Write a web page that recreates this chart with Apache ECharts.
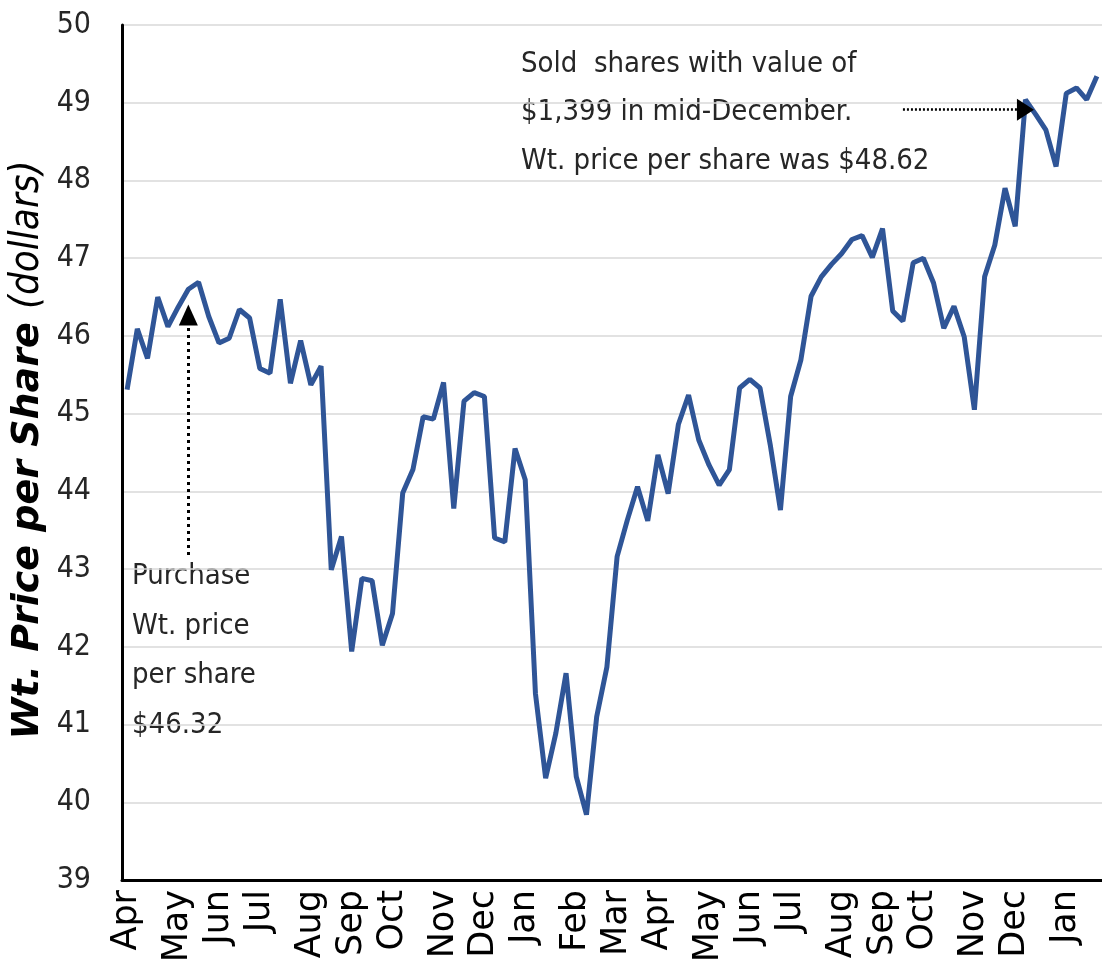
<!DOCTYPE html>
<html>
<head>
<meta charset="utf-8">
<script src="https://cdn.jsdelivr.net/npm/echarts@6/dist/echarts.min.js"></script>
<style>
  html, body { margin: 0; padding: 0; background: #fff; }
  #chart { width: 1102px; height: 971px; }
</style>
</head>
<body>
<div id="chart"></div>
<script>
// month labels and how many weekly points fall in each month
var monthNames = ['Apr','May','Jun','Jul','Aug','Sep','Oct','Nov','Dec','Jan','Feb',
                  'Mar','Apr','May','Jun','Jul','Aug','Sep','Oct','Nov','Dec','Jan'];
var weeksInMonth = [5,4,4,5,4,4,5,4,4,5,4,4,5,4,4,5,4,4,5,4,5,4];

// weighted price per share, one value per week
var prices = [
  45.31, 46.09, 45.71, 46.50, 46.12, 46.37, 46.60, 46.69, 46.25, 45.91,
  45.97, 46.34, 46.23, 45.58, 45.52, 46.47, 45.39, 45.94, 45.37, 45.61,
  42.99, 43.42, 41.94, 42.88, 42.85, 42.02, 42.43, 43.98, 44.28, 44.96,
  44.93, 45.40, 43.78, 45.16, 45.27, 45.22, 43.40, 43.35, 44.55, 44.15,
  41.40, 40.31, 40.89, 41.66, 40.33, 39.84, 41.10, 41.74, 43.16, 43.63,
  44.06, 43.62, 44.47, 43.97, 44.86, 45.24, 44.66, 44.34, 44.08, 44.28,
  45.33, 45.44, 45.33, 44.60, 43.76, 45.22, 45.69, 46.51, 46.76, 46.92,
  47.06, 47.24, 47.29, 47.01, 47.38, 46.32, 46.19, 46.94, 47.00, 46.68,
  46.10, 46.38, 45.99, 45.05, 46.76, 47.17, 47.90, 47.41, 49.04, 48.85,
  48.65, 48.18, 49.12, 49.19, 49.04, 49.34
];

var purchaseLevel = 46.44;
var purchaseWeek = 6;
var soldWeek = 88;

var narrow = '"DejaVu Sans Condensed", "Liberation Sans Narrow", sans-serif';

var weekLabels = [];
for (var i = 0; i < monthNames.length; i++) {
  weekLabels.push(monthNames[i]);
  for (var j = 1; j < weeksInMonth[i]; j++) {
    weekLabels.push('');
  }
}

var myChart = echarts.init(document.getElementById('chart'));
var option = {
  animation: false,
  grid: { left: 122, right: -5, top: 25, bottom: 91, containLabel: false },
  xAxis: {
    type: 'category',
    data: weekLabels,
    boundaryGap: true,
    axisLine: { lineStyle: { color: '#000', width: 3 } },
    axisTick: { show: false },
    axisLabel: {
      interval: 0,
      rotate: 90,
      margin: 10,
      color: '#000',
      fontFamily: 'DejaVu Sans',
      fontSize: 35
    },
    splitLine: { show: false }
  },
  yAxis: {
    type: 'value',
    min: 39,
    max: 50,
    interval: 1,
    axisLine: { show: true, lineStyle: { color: '#000', width: 3 } },
    axisTick: { show: false },
    axisLabel: {
      margin: 31,
      color: '#262626',
      fontFamily: narrow,
      fontSize: 30
    },
    splitLine: { lineStyle: { color: '#d9d9d9', width: 1.5 } }
  },
  series: [
    {
      type: 'line',
      data: prices,
      symbol: 'none',
      lineStyle: { color: '#2f5597', width: 5 },
      markLine: {
        silent: true,
        label: { show: false },
        data: [
          [
            { yAxis: purchaseLevel, symbol: 'none', lineStyle: { color: '#ff0000', width: 3, type: 'solid' } },
            { yAxis: purchaseLevel, symbol: 'none' }
          ],
          [
            { coord: [purchaseWeek, 43.18], symbol: 'none',
              lineStyle: { color: '#000', width: 3, type: [3, 4] } },
            { coord: [purchaseWeek, 46.27], symbol: 'triangle', symbolSize: [19, 21] }
          ],
          [
            { coord: [76, 48.91], symbol: 'none',
              lineStyle: { color: '#000', width: 2.5, type: [2, 2] } },
            { coord: [soldWeek, 48.91], symbol: 'triangle', symbolSize: [22, 17] }
          ]
        ]
      }
    }
  ],
  graphic: [
    {
      type: 'text',
      x: 28, y: 450,
      rotation: Math.PI / 2,
      style: {
        text: '{b|Wt. Price per Share }{n|(dollars)}',
        align: 'center',
        verticalAlign: 'middle',
        rich: {
          b: { fontFamily: 'DejaVu Sans', fontWeight: 'bold', fontStyle: 'italic', fontSize: 38, fill: '#000' },
          n: { fontFamily: narrow, fontStyle: 'italic', fontSize: 40, fill: '#000' }
        }
      }
    },
    {
      type: 'text',
      x: 521, y: 40,
      style: {
        text: 'Sold  shares with value of\n$1,399 in mid-December.\nWt. price per share was $48.62',
        fontFamily: narrow,
        fontSize: 29,
        lineHeight: 48.5,
        fill: '#262626',
        verticalAlign: 'top'
      }
    },
    {
      type: 'text',
      x: 132, y: 552,
      style: {
        text: 'Purchase\nWt. price\nper share\n$46.32',
        fontFamily: narrow,
        fontSize: 29,
        lineHeight: 49.5,
        fill: '#262626',
        verticalAlign: 'top'
      }
    }
  ]
};
myChart.setOption(option);
</script>
</body>
</html>
